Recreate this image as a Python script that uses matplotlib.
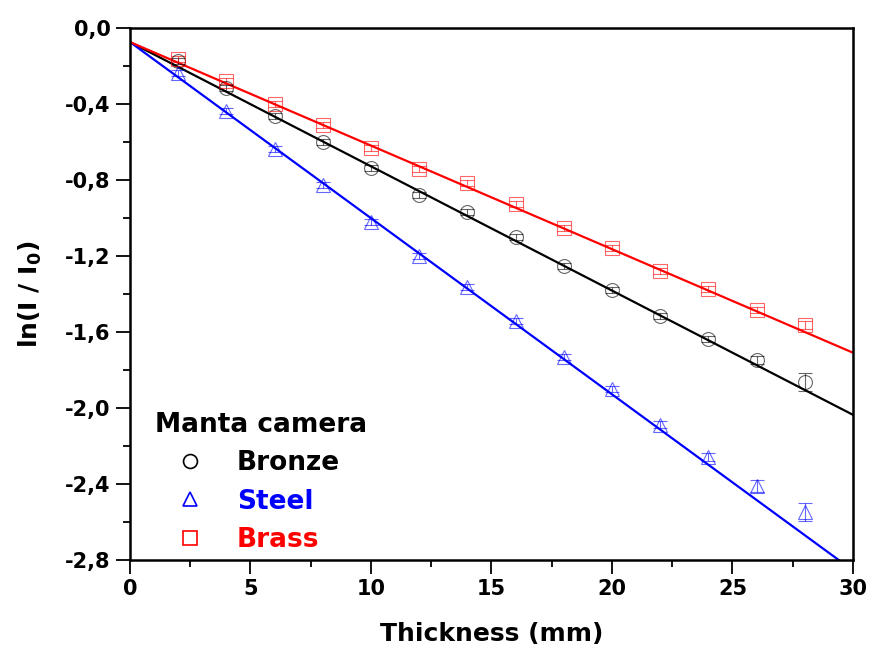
import numpy as np
import matplotlib
matplotlib.use("Agg")
import matplotlib.pyplot as plt
from matplotlib.ticker import MultipleLocator, FuncFormatter
from matplotlib.lines import Line2D

plt.rcParams['font.family'] = ['DejaVu Sans']
plt.rcParams['font.weight'] = 'bold'
plt.rcParams['mathtext.fontset'] = 'custom'
plt.rcParams['mathtext.rm'] = 'DejaVu Sans:bold'
plt.rcParams['mathtext.bf'] = 'DejaVu Sans:bold'

thickness = [2, 4, 6, 8, 10, 12, 14, 16, 18, 20, 22, 24, 26, 28]
bronze = [-0.174, -0.316, -0.463, -0.600, -0.737, -0.879, -0.968, -1.100, -1.253, -1.379, -1.516, -1.637, -1.747, -1.863]
bronze_err = [0.015, 0.015, 0.015, 0.015, 0.015, 0.015, 0.015, 0.015, 0.015, 0.015, 0.015, 0.018, 0.022, 0.045]
steel = [-0.237, -0.437, -0.637, -0.826, -1.021, -1.200, -1.363, -1.542, -1.732, -1.900, -2.089, -2.258, -2.410, -2.547]
steel_err = [0.015, 0.015, 0.015, 0.015, 0.015, 0.015, 0.015, 0.015, 0.015, 0.018, 0.018, 0.022, 0.030, 0.047]
brass = [-0.163, -0.279, -0.400, -0.510, -0.632, -0.742, -0.816, -0.926, -1.053, -1.158, -1.279, -1.374, -1.484, -1.563]
brass_err = [0.015, 0.015, 0.015, 0.015, 0.015, 0.015, 0.015, 0.015, 0.015, 0.015, 0.015, 0.015, 0.018, 0.020]

# linear fits: intercept, slope
fit_bronze = [-0.074, -0.0654]
fit_steel = [-0.074, -0.0927]
fit_brass = [-0.074, -0.0545]

series = [
    ("Bronze", bronze, bronze_err, fit_bronze, "black", "o"),
    ("Steel", steel, steel_err, fit_steel, "blue", "^"),
    ("Brass", brass, brass_err, fit_brass, "red", "s"),
]

fig = plt.figure(figsize=(8.74, 6.55), dpi=100)
ax = fig.add_axes([130/874, 1-560/655, (853-130)/874, (560-28)/655])

xfit = np.linspace(0, 30, 200)
for name, y, e, fit, c, m in series:
    ax.plot(xfit, fit[0] + fit[1]*xfit, color=c, lw=1.6, zorder=2)
    ax.errorbar(thickness, y, yerr=e, fmt=m, ms=10, mfc='none', mec=c, mew=0.8,
                ecolor=c, elinewidth=0.8, capsize=5, capthick=0.8, alpha=0.6, zorder=3)

ax.set_xlim(0, 30)
ax.set_ylim(-2.8, 0.0)
ax.xaxis.set_major_locator(MultipleLocator(5))
ax.xaxis.set_minor_locator(MultipleLocator(2.5))
ax.yaxis.set_major_locator(MultipleLocator(0.4))
ax.yaxis.set_minor_locator(MultipleLocator(0.2))
ax.yaxis.set_major_formatter(FuncFormatter(lambda v, p: f"{v:.1f}".replace('.', ',').replace('-0,0', '0,0')))
ax.tick_params(which='major', direction='out', length=10, width=1.3, labelsize=15, pad=4)
ax.tick_params(which='minor', direction='out', length=5, width=1.3)
for lab in ax.get_xticklabels() + ax.get_yticklabels():
    lab.set_fontweight('bold')
for s in ax.spines.values():
    s.set_linewidth(1.8)

ax.set_xlabel("Thickness (mm)", fontsize=18, fontweight='bold', labelpad=16)
ax.set_ylabel(r"ln(I / I$_\mathbf{0}$)", fontsize=18, fontweight='bold', labelpad=15)

handles = [Line2D([], [], ls='none', marker=m, ms=10, mfc='none', mec=c, mew=1.2)
           for name, y, e, fit, c, m in series]
labels = [s[0] for s in series]
leg = ax.legend(handles, labels, title="Manta camera", frameon=False,
                loc='lower left', bbox_to_anchor=(25/723, 7/532), fontsize=19,
                title_fontproperties={'weight': 'bold', 'size': 19},
                handlelength=2.65, handletextpad=0.45, labelspacing=0.47,
                borderpad=0, borderaxespad=0,
                labelcolor=[s[4] for s in series])
leg._legend_box.align = "left"
for t in leg.get_texts():
    t.set_fontweight('bold')

fig.savefig("out.png", dpi=100)
